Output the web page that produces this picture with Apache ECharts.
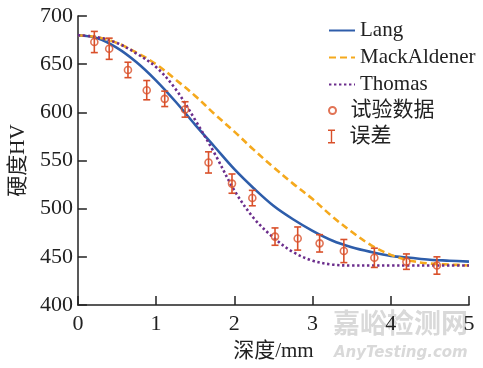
<!DOCTYPE html>
<html>
<head>
<meta charset="utf-8">
<script src="https://cdn.jsdelivr.net/npm/echarts@6/dist/echarts.min.js"></script>
<style>html,body{margin:0;padding:0;background:#fff;}#c{width:483px;height:368px;}</style>
</head>
<body>
<div id="c"></div>
<script>
// ---- data ----
const curveX = [0, 0.25, 0.5, 0.75, 1.0, 1.25, 1.5, 1.75, 2.0, 2.25, 2.5, 2.75, 3.0, 3.25, 3.5, 3.75, 4.0, 4.25, 4.5, 4.75, 5.0];
const langY = [680, 677, 667, 652, 633, 611, 587, 564, 541, 521, 503, 489, 477, 467, 460, 455, 451, 449, 447, 446, 445];
const mackY = [680, 678, 672, 662, 650, 634, 617, 598, 580, 561, 543, 526, 510, 492, 476, 462, 452, 446, 443, 442, 441];
const thomasY = [680, 678, 672, 661, 647, 624, 592, 557, 519, 490, 470, 455, 446, 442, 441, 441, 441, 441, 441, 441, 441];
const expX = [0.21, 0.40, 0.64, 0.88, 1.11, 1.37, 1.67, 1.97, 2.23, 2.52, 2.81, 3.09, 3.40, 3.79, 4.20, 4.59];
const expY = [673, 666, 644, 623, 614, 603, 548, 526, 511, 471, 469, 464, 456, 449, 445, 441];
const expErr = [11, 11, 8, 10, 8, 8, 11, 10, 8, 9, 12, 9, 12, 10, 8, 9];
const xTicks = [0, 1, 2, 3, 4, 5];
const yTicks = [400, 450, 500, 550, 600, 650, 700];

const FONT = '"Liberation Serif", "Noto Sans CJK SC", serif';
const RED = '#D9502A';
const pairs = (xs, ys) => xs.map((x, i) => [x, ys[i]]);

const chart = echarts.init(document.getElementById('c'), null, {renderer: 'canvas'});
const axisCommon = {
  axisLine: {show: true, lineStyle: {color: '#222', width: 1.5}},
  axisTick: {show: true, inside: true, length: 9, lineStyle: {color: '#222', width: 1.5}},
  splitLine: {show: false},
  axisLabel: {fontFamily: FONT, fontSize: 22, color: '#222'},
  nameTextStyle: {fontFamily: FONT, fontSize: 21, color: '#222'}
};
const legendText = {fontFamily: FONT, fontSize: 21, lineHeight: 21, color: '#222'};
chart.setOption({
  animation: false,
  backgroundColor: '#fff',
  grid: {left: 75, right: 14, top: 16, bottom: 63},
  xAxis: Object.assign({}, axisCommon, {
    type: 'value', min: xTicks[0], max: xTicks[xTicks.length - 1], interval: 1,
    name: '深度/mm', nameLocation: 'middle', nameGap: 36,
    axisLabel: Object.assign({}, axisCommon.axisLabel, {margin: 8})
  }),
  yAxis: Object.assign({}, axisCommon, {
    type: 'value', min: yTicks[0], max: yTicks[yTicks.length - 1], interval: 50,
    name: '硬度HV', nameLocation: 'middle', nameGap: 47,
    axisLabel: Object.assign({}, axisCommon.axisLabel, {margin: 5})
  }),
  legend: [{
    orient: 'vertical', left: 323, top: 15, itemWidth: 26, itemHeight: 7, itemGap: 6,
    itemStyle: {opacity: 0},
    textStyle: legendText,
    data: ['Lang', 'MackAldener', 'Thomas']
  }, {
    orient: 'vertical', left: 323, top: 95, itemWidth: 26, itemHeight: 7, itemGap: 6,
    textStyle: legendText,
    data: ['试验数据']
  }, {
    orient: 'vertical', left: 323, top: 121, itemWidth: 26, itemHeight: 14,
    textStyle: legendText,
    data: [{name: '误差', icon: 'path://M0,0h8v1.6h-3.2v12.8h3.2v1.6h-8v-1.6h3.2v-12.8h-3.2z', itemStyle: {color: RED}}]
  }],
  graphic: [
    {type: 'text', left: 333, top: 309, z: -10, silent: true,
     style: {text: '嘉峪检测网', font: 'bold 27px "Noto Sans CJK SC"', fill: '#d9d9d9'}},
    {type: 'text', left: 334, top: 346, z: -10, silent: true,
     style: {text: 'AnyTesting.com', font: 'italic bold 15px "DejaVu Sans"', fill: '#d9d9d9'}}
  ],
  series: [
    {name: 'Lang', type: 'line', data: pairs(curveX, langY), smooth: 0.35,
     symbol: 'none', showSymbol: false, lineStyle: {color: '#2E5DAA', width: 2.6}, itemStyle: {color: '#2E5DAA'}, z: 3},
    {name: 'MackAldener', type: 'line', data: pairs(curveX, mackY), smooth: 0.35,
     symbol: 'none', showSymbol: false, lineStyle: {color: '#F5A91D', width: 2.6, type: [7, 4]}, itemStyle: {color: '#F5A91D'}, z: 3},
    {name: 'Thomas', type: 'line', data: pairs(curveX, thomasY), smooth: 0.35,
     symbol: 'none', showSymbol: false, lineStyle: {color: '#6B2D8C', width: 2.6, type: [2.4, 2.6]}, itemStyle: {color: '#6B2D8C'}, z: 3},
    {name: '误差', type: 'custom', z: 4,
     data: expX.map((x, i) => [x, expY[i], expErr[i]]),
     itemStyle: {color: RED},
     renderItem: function (params, api) {
       const x = api.value(0), y = api.value(1), e = api.value(2);
       const t = api.coord([x, y + e]);
       const b = api.coord([x, y - e]);
       const hw = 3.5;
       const st = {stroke: RED, lineWidth: 1.6, fill: null};
       return {type: 'group', children: [
         {type: 'line', shape: {x1: t[0], y1: t[1], x2: b[0], y2: b[1]}, style: st},
         {type: 'line', shape: {x1: t[0] - hw, y1: t[1], x2: t[0] + hw, y2: t[1]}, style: st},
         {type: 'line', shape: {x1: b[0] - hw, y1: b[1], x2: b[0] + hw, y2: b[1]}, style: st}
       ]};
     }},
    {name: '试验数据', type: 'scatter', z: 5, data: pairs(expX, expY), symbol: 'circle', symbolSize: 7,
     itemStyle: {color: 'rgba(255,255,255,0)', borderColor: RED, borderWidth: 1.6}}
  ]
});
</script>
</body>
</html>
